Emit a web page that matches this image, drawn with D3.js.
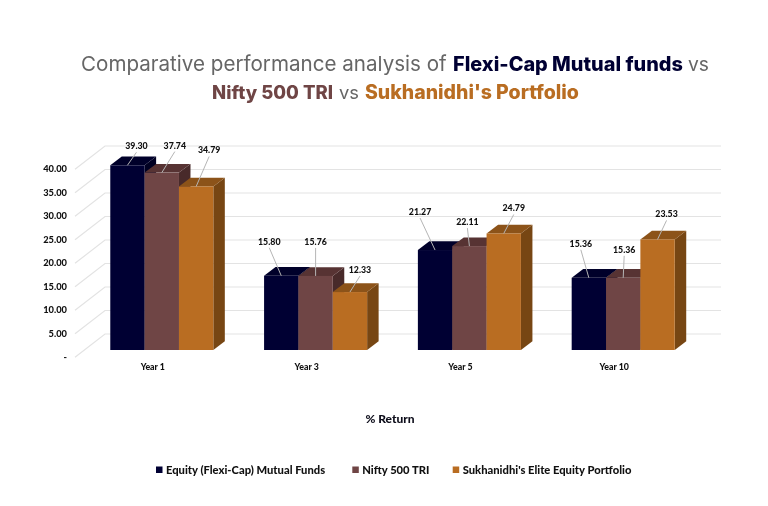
<!DOCTYPE html>
<html><head><meta charset="utf-8">
<script src="https://cdn.jsdelivr.net/npm/d3@7/dist/d3.min.js"></script>
<style>
html,body{margin:0;padding:0;background:#fff}
svg{display:block;filter:blur(0.3px)}
text{font-family:Lato,sans-serif}
</style></head><body><svg id="c" width="768" height="506"></svg>
<script>
const categories=["Year 1","Year 3","Year 5","Year 10"];
const seriesNames=["Equity (Flexi-Cap) Mutual Funds","Nifty 500 TRI","Sukhanidhi's Elite Equity Portfolio"];
const equity=[39.30,15.80,21.27,15.36];
const nifty=[37.74,15.76,22.11,15.36];
const sukhanidhi=[34.79,12.33,24.79,23.53];
const yTicks=[0,5,10,15,20,25,30,35,40];
const seriesValues=[equity,nifty,sukhanidhi];

// title pieces: text, colour, weight
const titleLine1=[["Comparative performance analysis of","#666666",400],["Flexi-Cap Mutual funds","#000033",800],["vs","#666666",400]];
const titleLine2=[["Nifty 500 TRI","#6f4545",800],["vs","#666666",400],["Sukhanidhi's Portfolio","#b96d22",800]];
// layout: horizontal extent of every title piece
const titleExtent1=[[81,447],[453,683],[688,709]];
const titleExtent2=[[212,333],[339,359],[365,579]];

// layout (label placement relative to each bar's top centre)
const labelOffsets=[
 [[9,-19],[13,-27],[13,-36]],
 [[-12,-34],[0,-34],[10,-22]],
 [[-15,-38],[-2,-24],[10,-25]],
 [[-8,-34],[1,-28],[9,-25]]];
const frontColors=["#000033","#6f4545","#b96d22"];
const topColors=["#00002a","#573333","#8c5319"];
const sideColors=["#000022","#482a2a","#774613"];
const depth={x:11.5,y:8.7};
const wall={x:30,y:23.3};
const ink="#111111";

const svg=d3.select("#c");
svg.append("rect").attr("width",768).attr("height",506).attr("fill","#fff");

function titleRow(yy,parts,ext){
  parts.forEach((p,i)=>{
    const t=svg.append("text").attr("x",ext[i][0]).attr("y",yy).attr("font-size",20)
      .style("font-family","Inter,sans-serif").attr("fill",p[1]).attr("font-weight",p[2]).text(p[0]);
    const natural=t.node().getComputedTextLength();
    t.attr("font-size",20*(ext[i][1]-ext[i][0])/natural);
  });
}
titleRow(71,titleLine1,titleExtent1);
titleRow(98.5,titleLine2,titleExtent2);

// scales
const y=d3.scaleLinear().domain([0,40]).range([0,-188]);
const x0=d3.scaleBand().domain(categories).range([84.9,84.9+4*153.8]).paddingInner(0.33).paddingOuter(0.165);
const x1=d3.scaleBand().domain(d3.range(3)).range([0,x0.bandwidth()]);
const baseFront=350, baseBack=334, baseAxis=357;
const wallLeft=105, wallRight=721, wallFront=75;

// gridlines
const grid=svg.append("g").attr("stroke","#e3e3e3").attr("stroke-width",1.2).attr("fill","none");
yTicks.forEach(v=>{
  const yy=baseBack+y(v);
  grid.append("path").attr("d",d3.line()([[wallFront,yy+wall.y],[wallLeft,yy],[wallRight,yy]]));
});

// axis
const axisG=svg.append("g").attr("transform",`translate(67,${baseAxis})`)
  .call(d3.axisLeft(y).tickValues(yTicks).tickSize(0).tickPadding(0)
    .tickFormat(v=>v===0?"-     ":d3.format(".2f")(v)));
axisG.select(".domain").remove();
axisG.selectAll("text").attr("font-size",9.3).attr("font-weight",900).attr("fill",ink)
  .style("font-family","Lato,sans-serif").attr("dy","0.3em");

// bars
const bars=svg.append("g");
const leaders=svg.append("g");
categories.forEach((cat,ci)=>{
  seriesValues.forEach((vals,si)=>{
    const left=x0(cat)+x1(si), w=x1.bandwidth(), right=left+w;
    const top=baseFront+y(vals[ci]);
    bars.append("path").attr("fill",sideColors[si])
      .attr("d",d3.line()([[right,top],[right+depth.x,top-depth.y],[right+depth.x,baseFront-depth.y],[right,baseFront]]));
    bars.append("path").attr("fill",topColors[si])
      .attr("d",d3.line()([[left,top],[left+depth.x,top-depth.y],[right+depth.x,top-depth.y],[right,top]]));
    bars.append("rect").attr("x",left).attr("y",top).attr("width",w).attr("height",baseFront-top).attr("fill",frontColors[si]);
    const cx=left+w/2, off=labelOffsets[ci][si];
    const lx=cx+off[0], ly=top+off[1];
    leaders.append("line").attr("x1",cx).attr("y1",top)
      .attr("x2",lx).attr("y2",ly+6)
      .attr("stroke","#b5b5b5").attr("stroke-width",1);
    leaders.append("text").attr("x",lx).attr("y",ly+3).attr("text-anchor","middle")
      .attr("font-size",8.8).attr("font-weight",900).attr("fill",ink).text(d3.format(".2f")(vals[ci]));
  });
  svg.append("text").attr("x",x0(cat)+x0.bandwidth()/2-9).attr("y",370).attr("text-anchor","middle")
    .attr("font-size",8.8).attr("font-weight",900).attr("fill",ink).text(cat);
});

// axis title
svg.append("text").attr("x",390).attr("y",423).attr("text-anchor","middle")
  .attr("font-size",12).attr("font-weight",900).attr("fill","#0d0d1a").text("% Return");

// legend
const legendX=[156,352.3,452.7];
seriesNames.forEach((n,i)=>{
  svg.append("rect").attr("x",legendX[i]).attr("y",466.5).attr("width",6.5).attr("height",6.5).attr("fill",frontColors[i]);
  svg.append("text").attr("x",legendX[i]+10).attr("y",473.7).attr("font-size",11.2).attr("font-weight",900).attr("fill",ink).text(n);
});
</script></body></html>
